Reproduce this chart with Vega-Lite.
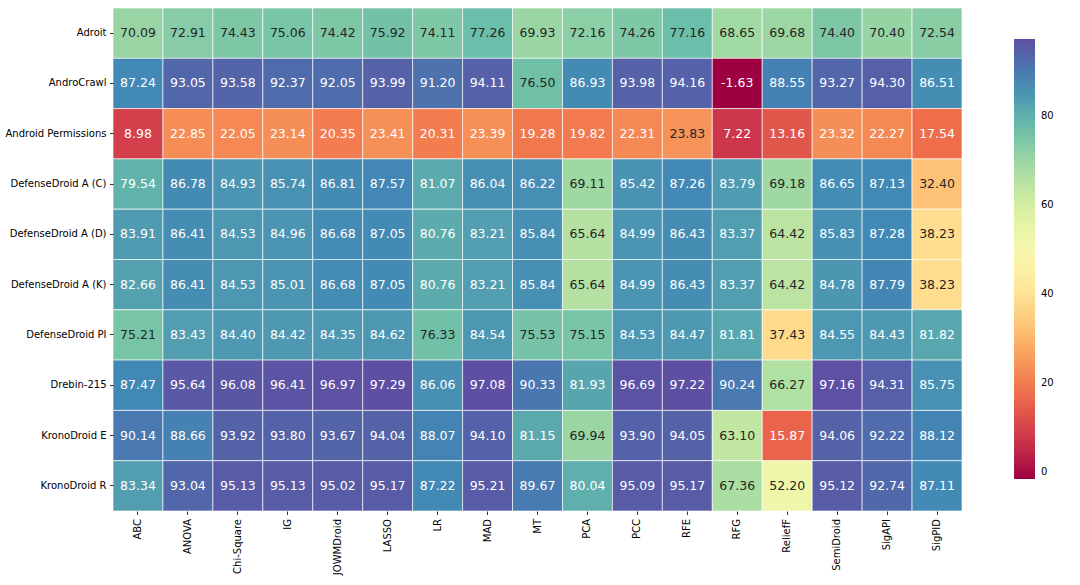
{
  "$schema": "https://vega.github.io/schema/vega-lite/v6.json",
  "width": 849,
  "height": 503,
  "autosize": {"type": "none"},
  "padding": {"left": 113, "top": 8, "right": 118, "bottom": 74},
  "background": "white",
  "config": {
    "locale": {"number": {"decimal": ".", "thousands": ",", "grouping": [3], "currency": ["$", ""], "minus": "-"}},
    "view": {"stroke": null},
    "font": "DejaVu Sans",
    "axis": {"labelFont": "DejaVu Sans", "labelFontSize": 10, "labelColor": "#000000", "tickColor": "#000000", "tickSize": 3.5, "tickWidth": 0.8, "domain": false, "grid": false, "title": null, "labelPadding": 3.5}
  },
  "data": {"values": [
    {"dataset":"Adroit","method":"ABC","value":70.09},{"dataset":"Adroit","method":"ANOVA","value":72.91},{"dataset":"Adroit","method":"Chi-Square","value":74.43},{"dataset":"Adroit","method":"IG","value":75.06},{"dataset":"Adroit","method":"JOWMDroid","value":74.42},{"dataset":"Adroit","method":"LASSO","value":75.92},{"dataset":"Adroit","method":"LR","value":74.11},{"dataset":"Adroit","method":"MAD","value":77.26},{"dataset":"Adroit","method":"MT","value":69.93},{"dataset":"Adroit","method":"PCA","value":72.16},{"dataset":"Adroit","method":"PCC","value":74.26},{"dataset":"Adroit","method":"RFE","value":77.16},{"dataset":"Adroit","method":"RFG","value":68.65},{"dataset":"Adroit","method":"ReliefF","value":69.68},{"dataset":"Adroit","method":"SemiDroid","value":74.40},{"dataset":"Adroit","method":"SigAPI","value":70.40},{"dataset":"Adroit","method":"SigPID","value":72.54},
    {"dataset":"AndroCrawl","method":"ABC","value":87.24},{"dataset":"AndroCrawl","method":"ANOVA","value":93.05},{"dataset":"AndroCrawl","method":"Chi-Square","value":93.58},{"dataset":"AndroCrawl","method":"IG","value":92.37},{"dataset":"AndroCrawl","method":"JOWMDroid","value":92.05},{"dataset":"AndroCrawl","method":"LASSO","value":93.99},{"dataset":"AndroCrawl","method":"LR","value":91.20},{"dataset":"AndroCrawl","method":"MAD","value":94.11},{"dataset":"AndroCrawl","method":"MT","value":76.50},{"dataset":"AndroCrawl","method":"PCA","value":86.93},{"dataset":"AndroCrawl","method":"PCC","value":93.98},{"dataset":"AndroCrawl","method":"RFE","value":94.16},{"dataset":"AndroCrawl","method":"RFG","value":-1.63},{"dataset":"AndroCrawl","method":"ReliefF","value":88.55},{"dataset":"AndroCrawl","method":"SemiDroid","value":93.27},{"dataset":"AndroCrawl","method":"SigAPI","value":94.30},{"dataset":"AndroCrawl","method":"SigPID","value":86.51},
    {"dataset":"Android Permissions","method":"ABC","value":8.98},{"dataset":"Android Permissions","method":"ANOVA","value":22.85},{"dataset":"Android Permissions","method":"Chi-Square","value":22.05},{"dataset":"Android Permissions","method":"IG","value":23.14},{"dataset":"Android Permissions","method":"JOWMDroid","value":20.35},{"dataset":"Android Permissions","method":"LASSO","value":23.41},{"dataset":"Android Permissions","method":"LR","value":20.31},{"dataset":"Android Permissions","method":"MAD","value":23.39},{"dataset":"Android Permissions","method":"MT","value":19.28},{"dataset":"Android Permissions","method":"PCA","value":19.82},{"dataset":"Android Permissions","method":"PCC","value":22.31},{"dataset":"Android Permissions","method":"RFE","value":23.83},{"dataset":"Android Permissions","method":"RFG","value":7.22},{"dataset":"Android Permissions","method":"ReliefF","value":13.16},{"dataset":"Android Permissions","method":"SemiDroid","value":23.32},{"dataset":"Android Permissions","method":"SigAPI","value":22.27},{"dataset":"Android Permissions","method":"SigPID","value":17.54},
    {"dataset":"DefenseDroid A (C)","method":"ABC","value":79.54},{"dataset":"DefenseDroid A (C)","method":"ANOVA","value":86.78},{"dataset":"DefenseDroid A (C)","method":"Chi-Square","value":84.93},{"dataset":"DefenseDroid A (C)","method":"IG","value":85.74},{"dataset":"DefenseDroid A (C)","method":"JOWMDroid","value":86.81},{"dataset":"DefenseDroid A (C)","method":"LASSO","value":87.57},{"dataset":"DefenseDroid A (C)","method":"LR","value":81.07},{"dataset":"DefenseDroid A (C)","method":"MAD","value":86.04},{"dataset":"DefenseDroid A (C)","method":"MT","value":86.22},{"dataset":"DefenseDroid A (C)","method":"PCA","value":69.11},{"dataset":"DefenseDroid A (C)","method":"PCC","value":85.42},{"dataset":"DefenseDroid A (C)","method":"RFE","value":87.26},{"dataset":"DefenseDroid A (C)","method":"RFG","value":83.79},{"dataset":"DefenseDroid A (C)","method":"ReliefF","value":69.18},{"dataset":"DefenseDroid A (C)","method":"SemiDroid","value":86.65},{"dataset":"DefenseDroid A (C)","method":"SigAPI","value":87.13},{"dataset":"DefenseDroid A (C)","method":"SigPID","value":32.40},
    {"dataset":"DefenseDroid A (D)","method":"ABC","value":83.91},{"dataset":"DefenseDroid A (D)","method":"ANOVA","value":86.41},{"dataset":"DefenseDroid A (D)","method":"Chi-Square","value":84.53},{"dataset":"DefenseDroid A (D)","method":"IG","value":84.96},{"dataset":"DefenseDroid A (D)","method":"JOWMDroid","value":86.68},{"dataset":"DefenseDroid A (D)","method":"LASSO","value":87.05},{"dataset":"DefenseDroid A (D)","method":"LR","value":80.76},{"dataset":"DefenseDroid A (D)","method":"MAD","value":83.21},{"dataset":"DefenseDroid A (D)","method":"MT","value":85.84},{"dataset":"DefenseDroid A (D)","method":"PCA","value":65.64},{"dataset":"DefenseDroid A (D)","method":"PCC","value":84.99},{"dataset":"DefenseDroid A (D)","method":"RFE","value":86.43},{"dataset":"DefenseDroid A (D)","method":"RFG","value":83.37},{"dataset":"DefenseDroid A (D)","method":"ReliefF","value":64.42},{"dataset":"DefenseDroid A (D)","method":"SemiDroid","value":85.83},{"dataset":"DefenseDroid A (D)","method":"SigAPI","value":87.28},{"dataset":"DefenseDroid A (D)","method":"SigPID","value":38.23},
    {"dataset":"DefenseDroid A (K)","method":"ABC","value":82.66},{"dataset":"DefenseDroid A (K)","method":"ANOVA","value":86.41},{"dataset":"DefenseDroid A (K)","method":"Chi-Square","value":84.53},{"dataset":"DefenseDroid A (K)","method":"IG","value":85.01},{"dataset":"DefenseDroid A (K)","method":"JOWMDroid","value":86.68},{"dataset":"DefenseDroid A (K)","method":"LASSO","value":87.05},{"dataset":"DefenseDroid A (K)","method":"LR","value":80.76},{"dataset":"DefenseDroid A (K)","method":"MAD","value":83.21},{"dataset":"DefenseDroid A (K)","method":"MT","value":85.84},{"dataset":"DefenseDroid A (K)","method":"PCA","value":65.64},{"dataset":"DefenseDroid A (K)","method":"PCC","value":84.99},{"dataset":"DefenseDroid A (K)","method":"RFE","value":86.43},{"dataset":"DefenseDroid A (K)","method":"RFG","value":83.37},{"dataset":"DefenseDroid A (K)","method":"ReliefF","value":64.42},{"dataset":"DefenseDroid A (K)","method":"SemiDroid","value":84.78},{"dataset":"DefenseDroid A (K)","method":"SigAPI","value":87.79},{"dataset":"DefenseDroid A (K)","method":"SigPID","value":38.23},
    {"dataset":"DefenseDroid PI","method":"ABC","value":75.21},{"dataset":"DefenseDroid PI","method":"ANOVA","value":83.43},{"dataset":"DefenseDroid PI","method":"Chi-Square","value":84.40},{"dataset":"DefenseDroid PI","method":"IG","value":84.42},{"dataset":"DefenseDroid PI","method":"JOWMDroid","value":84.35},{"dataset":"DefenseDroid PI","method":"LASSO","value":84.62},{"dataset":"DefenseDroid PI","method":"LR","value":76.33},{"dataset":"DefenseDroid PI","method":"MAD","value":84.54},{"dataset":"DefenseDroid PI","method":"MT","value":75.53},{"dataset":"DefenseDroid PI","method":"PCA","value":75.15},{"dataset":"DefenseDroid PI","method":"PCC","value":84.53},{"dataset":"DefenseDroid PI","method":"RFE","value":84.47},{"dataset":"DefenseDroid PI","method":"RFG","value":81.81},{"dataset":"DefenseDroid PI","method":"ReliefF","value":37.43},{"dataset":"DefenseDroid PI","method":"SemiDroid","value":84.55},{"dataset":"DefenseDroid PI","method":"SigAPI","value":84.43},{"dataset":"DefenseDroid PI","method":"SigPID","value":81.82},
    {"dataset":"Drebin-215","method":"ABC","value":87.47},{"dataset":"Drebin-215","method":"ANOVA","value":95.64},{"dataset":"Drebin-215","method":"Chi-Square","value":96.08},{"dataset":"Drebin-215","method":"IG","value":96.41},{"dataset":"Drebin-215","method":"JOWMDroid","value":96.97},{"dataset":"Drebin-215","method":"LASSO","value":97.29},{"dataset":"Drebin-215","method":"LR","value":86.06},{"dataset":"Drebin-215","method":"MAD","value":97.08},{"dataset":"Drebin-215","method":"MT","value":90.33},{"dataset":"Drebin-215","method":"PCA","value":81.93},{"dataset":"Drebin-215","method":"PCC","value":96.69},{"dataset":"Drebin-215","method":"RFE","value":97.22},{"dataset":"Drebin-215","method":"RFG","value":90.24},{"dataset":"Drebin-215","method":"ReliefF","value":66.27},{"dataset":"Drebin-215","method":"SemiDroid","value":97.16},{"dataset":"Drebin-215","method":"SigAPI","value":94.31},{"dataset":"Drebin-215","method":"SigPID","value":85.75},
    {"dataset":"KronoDroid E","method":"ABC","value":90.14},{"dataset":"KronoDroid E","method":"ANOVA","value":88.66},{"dataset":"KronoDroid E","method":"Chi-Square","value":93.92},{"dataset":"KronoDroid E","method":"IG","value":93.80},{"dataset":"KronoDroid E","method":"JOWMDroid","value":93.67},{"dataset":"KronoDroid E","method":"LASSO","value":94.04},{"dataset":"KronoDroid E","method":"LR","value":88.07},{"dataset":"KronoDroid E","method":"MAD","value":94.10},{"dataset":"KronoDroid E","method":"MT","value":81.15},{"dataset":"KronoDroid E","method":"PCA","value":69.94},{"dataset":"KronoDroid E","method":"PCC","value":93.90},{"dataset":"KronoDroid E","method":"RFE","value":94.05},{"dataset":"KronoDroid E","method":"RFG","value":63.10},{"dataset":"KronoDroid E","method":"ReliefF","value":15.87},{"dataset":"KronoDroid E","method":"SemiDroid","value":94.06},{"dataset":"KronoDroid E","method":"SigAPI","value":92.22},{"dataset":"KronoDroid E","method":"SigPID","value":88.12},
    {"dataset":"KronoDroid R","method":"ABC","value":83.34},{"dataset":"KronoDroid R","method":"ANOVA","value":93.04},{"dataset":"KronoDroid R","method":"Chi-Square","value":95.13},{"dataset":"KronoDroid R","method":"IG","value":95.13},{"dataset":"KronoDroid R","method":"JOWMDroid","value":95.02},{"dataset":"KronoDroid R","method":"LASSO","value":95.17},{"dataset":"KronoDroid R","method":"LR","value":87.22},{"dataset":"KronoDroid R","method":"MAD","value":95.21},{"dataset":"KronoDroid R","method":"MT","value":89.67},{"dataset":"KronoDroid R","method":"PCA","value":80.04},{"dataset":"KronoDroid R","method":"PCC","value":95.09},{"dataset":"KronoDroid R","method":"RFE","value":95.17},{"dataset":"KronoDroid R","method":"RFG","value":67.36},{"dataset":"KronoDroid R","method":"ReliefF","value":52.20},{"dataset":"KronoDroid R","method":"SemiDroid","value":95.12},{"dataset":"KronoDroid R","method":"SigAPI","value":92.74},{"dataset":"KronoDroid R","method":"SigPID","value":87.11}
  ]},
  "encoding": {
    "x": {"field": "method", "type": "nominal", "sort": null, "scale": {"paddingInner": 0, "paddingOuter": 0},
      "axis": {"labelAngle": -90, "labelAlign": "right", "labelBaseline": "middle", "labelPadding": 4}},
    "y": {"field": "dataset", "type": "nominal", "sort": null, "scale": {"paddingInner": 0, "paddingOuter": 0},
      "axis": {"labelPadding": 3.5}}
  },
  "layer": [
    {
      "mark": {"type": "rect", "stroke": "#ffffff", "strokeWidth": 0.8, "strokeOpacity": 0.8},
      "encoding": {
        "color": {"field": "value", "type": "quantitative",
          "scale": {"scheme": "spectral", "domain": [-1.63, 97.29], "nice": false, "zero": false},
          "legend": {"orient": "none", "legendX": 901, "legendY": 31, "direction": "vertical", "title": null,
            "gradientLength": 440, "gradientThickness": 21, "values": [0, 20, 40, 60, 80],
            "labelFont": "DejaVu Sans", "labelFontSize": 10, "labelColor": "#000000", "labelOffset": 6, "gradientStrokeWidth": 0}}
      }
    },
    {
      "mark": {"type": "text", "fontSize": 12.5, "font": "DejaVu Sans"},
      "encoding": {
        "text": {"field": "value", "type": "quantitative", "format": ".2f"},
        "color": {"condition": {"test": "datum.value > 23.5 && datum.value < 78.5", "value": "#262626"}, "value": "#ffffff"}
      }
    }
  ]
}
